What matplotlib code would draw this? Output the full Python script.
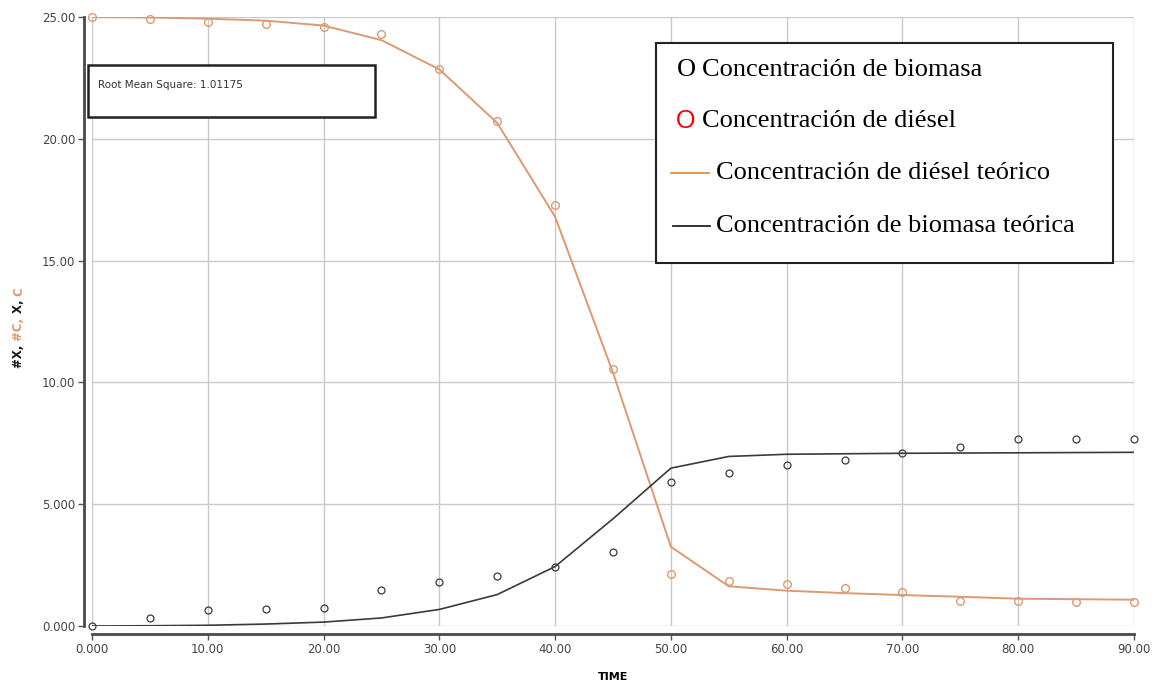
import matplotlib
matplotlib.use('Agg')
import matplotlib.pyplot as plt
from matplotlib.patches import Rectangle
from matplotlib.lines import Line2D
from matplotlib.ticker import FixedLocator

# data
time = [0, 5, 10, 15, 20, 25, 30, 35, 40, 45, 50, 55, 60, 65, 70, 75, 80, 85, 90]
diesel_obs = [25.0, 24.9, 24.8, 24.7, 24.6, 24.3, 22.85, 20.75, 17.3, 10.55,
              2.14, 1.86, 1.72, 1.57, 1.40, 1.02, 1.02, 0.99, 0.99]
diesel_fit = [25.0, 24.98, 24.93, 24.85, 24.65, 24.05, 22.85, 20.65, 16.8, 10.4,
              3.25, 1.63, 1.45, 1.35, 1.27, 1.2, 1.12, 1.1, 1.08]
biomass_obs = [0.0, 0.34, 0.66, 0.70, 0.73, 1.46, 1.80, 2.07, 2.44, 3.02,
               5.93, 6.27, 6.59, 6.83, 7.11, 7.34, 7.66, 7.66, 7.66]
biomass_fit = [0.0, 0.01, 0.03, 0.08, 0.16, 0.33, 0.68, 1.29, 2.44, 4.4,
               6.48, 6.96, 7.05, 7.07, 7.09, 7.1, 7.11, 7.12, 7.13]

x_ticks = [0, 10, 20, 30, 40, 50, 60, 70, 80, 90]
x_labels = ['0.000', '10.00', '20.00', '30.00', '40.00', '50.00', '60.00', '70.00', '80.00', '90.00']
y_ticks = [0, 5, 10, 15, 20, 25]
y_labels = ['0.000', '5.000', '10.00', '15.00', '20.00', '25.00']

legend_labels = ['Concentración de biomasa', 'Concentración de diésel',
                 'Concentración de diésel teórico', 'Concentración de biomasa teórica']
rms_text = 'Root Mean Square: 1.01175'

orange = '#dc9a72'
dark = '#3a3a3a'

W, H = 1161, 683
fig = plt.figure(figsize=(W / 100, H / 100), dpi=100)
ax = fig.add_axes([92 / W, 1 - 626 / H, (1134 - 92) / W, (626 - 17) / H])

ax.plot(time, diesel_fit, color=orange, lw=1.4, zorder=3)
ax.plot(time, biomass_fit, color=dark, lw=1.2, zorder=3)
ax.plot(time, diesel_obs, 'o', mfc='none', mec=orange, ms=5.5, mew=1.0, clip_on=False, zorder=4)
ax.plot(time, biomass_obs, 'o', mfc='none', mec=dark, ms=5, mew=0.9, clip_on=False, zorder=4)

ax.set_xlim(0, 90)
ax.set_ylim(0, 25)
ax.xaxis.set_major_locator(FixedLocator(x_ticks))
ax.yaxis.set_major_locator(FixedLocator(y_ticks))
ax.set_xticklabels(x_labels)
ax.set_yticklabels(y_labels)
ax.grid(True, color='#c9c9c9', lw=1.0)
ax.set_axisbelow(True)

for s in ['top', 'right']:
    ax.spines[s].set_visible(False)
for s in ['left', 'bottom']:
    ax.spines[s].set_position(('outward', 6))
    ax.spines[s].set_color('#4a4a4a')
    ax.spines[s].set_linewidth(2)
ax.tick_params(length=4, width=1, color='#555555', labelsize=8.5, labelcolor='#444444', pad=2)

ax.set_xlabel('TIME', fontsize=8, fontweight='bold', labelpad=12)

# y label in coloured pieces
renderer = fig.canvas.get_renderer()
pieces = [('#X, ', '#1a1a1a'), ('#C, ', orange), ('X, ', '#1a1a1a'), ('C', orange)]
ypix = 368
for txt, col in pieces:
    t = fig.text(19 / W, 1 - ypix / H, txt, rotation=90, rotation_mode='anchor',
                 ha='left', va='center', fontsize=8.5, fontweight='bold', color=col)
    bb = t.get_window_extent(renderer)
    ypix -= bb.height

# RMS box
fig.patches.append(Rectangle((88 / W, 1 - 117 / H), (375 - 88) / W, (117 - 65) / H,
                             transform=fig.transFigure, fill=True, fc='white',
                             ec='#222222', lw=1.8, zorder=5))
fig.text(98 / W, 1 - 85 / H, rms_text, fontsize=7.5, color='#333333', va='center', zorder=6)

# legend box
fig.patches.append(Rectangle((656 / W, 1 - 263 / H), (1113 - 656) / W, (263 - 43) / H,
                             transform=fig.transFigure, fill=True, fc='white',
                             ec='#222222', lw=1.5, zorder=5))
serif = 'Liberation Serif'
fs = 19
rows = [70, 121, 173, 226]
fig.text(677 / W, 1 - rows[0] / H, 'O', fontsize=fs, family=serif, color='black', va='center', zorder=6)
fig.text(702 / W, 1 - rows[0] / H, legend_labels[0], fontsize=fs, family=serif, va='center', zorder=6)
fig.text(676 / W, 1 - rows[1] / H, 'O', fontsize=18, family='Liberation Sans', color='red', va='center', zorder=6)
fig.text(702 / W, 1 - rows[1] / H, legend_labels[1], fontsize=fs, family=serif, va='center', zorder=6)
fig.lines.append(Line2D([671 / W, 709 / W], [1 - rows[2] / H] * 2, transform=fig.transFigure,
                        color='#f08a3c', lw=1.3, zorder=6))
fig.text(716 / W, 1 - rows[2] / H, legend_labels[2], fontsize=fs, family=serif, va='center', zorder=6)
fig.lines.append(Line2D([673 / W, 710 / W], [1 - rows[3] / H] * 2, transform=fig.transFigure,
                        color='#222222', lw=1.3, zorder=6))
fig.text(716 / W, 1 - rows[3] / H, legend_labels[3], fontsize=fs, family=serif, va='center', zorder=6)

fig.savefig('out.png', dpi=100)
